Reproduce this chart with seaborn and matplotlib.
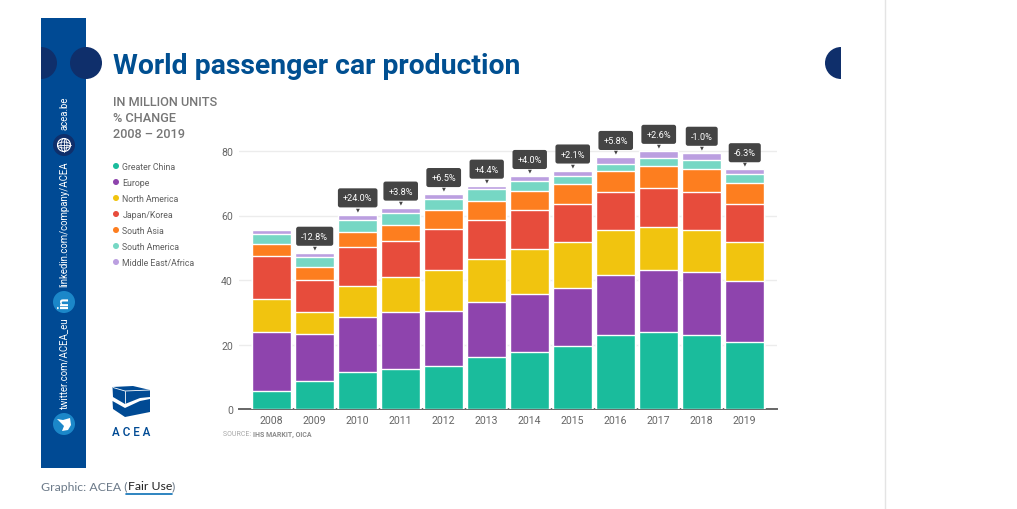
import numpy as np
import matplotlib
matplotlib.use('Agg')
import matplotlib.pyplot as plt
from matplotlib.patches import Circle, Wedge, Rectangle, Polygon, Ellipse
import seaborn as sns

years = ['2008', '2009', '2010', '2011', '2012', '2013', '2014', '2015', '2016', '2017', '2018', '2019']
regions = ['Greater China', 'Europe', 'North America', 'Japan/Korea', 'South Asia', 'South America', 'Middle East/Africa']
colors = ['#1abc9c', '#8e44ad', '#f1c40f', '#e74c3c', '#fd7e1f', '#76d7c4', '#bb9fe0']

greater_china = [5.7, 8.6, 11.5, 12.4, 13.3, 16.1, 17.8, 19.4, 22.9, 23.9, 22.9, 20.8]
europe = [18.2, 14.7, 16.9, 17.8, 17.1, 17.1, 17.9, 18.1, 18.6, 19.2, 19.6, 18.8]
north_america = [10.2, 6.7, 9.6, 10.7, 12.7, 13.2, 13.8, 14.2, 14.1, 13.2, 13.0, 12.1]
japan_korea = [13.3, 10.1, 12.1, 11.2, 12.7, 12.2, 12.2, 11.9, 11.7, 12.1, 11.7, 11.9]
south_asia = [3.8, 3.9, 4.9, 5.1, 5.9, 6.0, 6.0, 6.1, 6.5, 6.8, 7.2, 6.6]
south_america = [3.1, 3.0, 3.5, 3.5, 3.5, 3.5, 3.1, 2.5, 2.2, 2.6, 2.7, 2.6]
middle_east = [1.2, 1.4, 1.8, 1.7, 1.4, 1.1, 1.4, 1.7, 2.1, 2.2, 2.3, 1.5]
changes = [None, '-12.8%', '+24.0%', '+3.8%', '+6.5%', '+4.4%', '+4.0%', '+2.1%', '+5.8%', '+2.6%', '-1.0%', '-6.3%']

BLUE = '#004a94'
NAVY = '#0f2f6b'
LIGHT = '#1b87c9'

sns.set_style('white')
plt.rcParams['font.family'] = ['Roboto', 'DejaVu Sans']

W, H = 1017, 510
fig = plt.figure(figsize=(W / 100, H / 100), dpi=100, facecolor='white')

# page furniture, drawn in pixel coordinates
bg = fig.add_axes([0, 0, 1, 1])
bg.set_xlim(0, W)
bg.set_ylim(H, 0)
bg.axis('off')

bg.plot([885, 885], [0, H], color='#e4e4e4', lw=1)
bg.add_patch(Rectangle((41, 18.5), 45, 450, fc=BLUE, ec='none'))
bg.add_patch(Wedge((41, 64), 16, -90, 90, fc=NAVY, ec='none'))
bg.add_patch(Circle((86, 64), 16, fc=NAVY, ec='none'))
bg.add_patch(Wedge((841, 64), 16, 90, 270, fc=NAVY, ec='none'))

bg.text(113, 66, 'World passenger car production', fontsize=20.4, fontweight='bold',
        color='#004f91', va='center', ha='left')
for y, line in zip([102.5, 118.5, 134.5], ['IN MILLION UNITS', '% CHANGE', '2008 – 2019']):
    bg.text(113, y, line, fontsize=9.2, fontweight='medium', color='#767676', va='center', ha='left')

# legend
for i, (name, col) in enumerate(zip(regions, colors)):
    y = 167 + i * 16
    bg.add_patch(Circle((116, y), 3, fc=col, ec='none'))
    bg.text(122.5, y + 0.7, name, fontsize=6.35, color='#5f5f5f', va='center', ha='left')

# sidebar
for y, label in zip([130, 287, 409], ['acea.be', 'linkedin.com/company/ACEA', 'twitter.com/ACEA_eu']):
    bg.text(64.5, y, label, fontsize=6.9, color='white', rotation=90, ha='center', va='bottom')

bg.add_patch(Circle((64, 146), 11, fc=NAVY, ec='none'))
bg.add_patch(Circle((64, 146), 6.5, fc='none', ec='white', lw=0.8))
bg.add_patch(Ellipse((64, 146), 6, 13, fc='none', ec='white', lw=0.6))
bg.add_patch(Ellipse((64, 146), 13, 6, fc='none', ec='white', lw=0.6))
bg.plot([57.5, 70.5], [146, 146], color='white', lw=0.6)
bg.plot([64, 64], [139.5, 152.5], color='white', lw=0.6)

bg.add_patch(Circle((64, 303), 11, fc=LIGHT, ec='none'))
bg.text(64.5, 303, 'in', fontsize=11, fontweight='bold', color='white', rotation=90, ha='center', va='center')

bg.add_patch(Circle((64, 425), 11, fc=LIGHT, ec='none'))
bg.add_patch(Polygon([(57, 420), (63, 421), (70, 419), (71, 426), (68, 431), (62, 432), (64, 427)],
                     fc='white', ec='none'))

# ACEA logo
bg.add_patch(Polygon([(112.5, 388), (133, 387), (150, 391), (150, 398), (140, 399), (125, 405), (113, 398)],
                     fc=BLUE, ec='none'))
bg.add_patch(Polygon([(112.5, 402), (125, 409), (140, 402), (150, 400), (150, 413), (125, 418), (113, 410)],
                     fc=BLUE, ec='none'))
bg.plot([113, 125, 150], [388.5, 392, 391], color='white', lw=0.6)
bg.plot([125, 125], [392, 404], color='white', lw=0.6)
bg.text(131.5, 432.5, 'A C E A', fontsize=8.4, color=BLUE, ha='center', va='center', fontweight='medium')

# source and credit
src = bg.text(223, 435, 'SOURCE: ', fontsize=5, color='#a8a8a8', va='center', ha='left')
bg.annotate('IHS MARKIT, OICA', xy=(1, 0.5), xycoords=src, fontsize=5, fontweight='bold',
            color='#8a8a8a', va='center', ha='left')
credit = bg.text(41, 487, 'Graphic: ACEA (', fontsize=8.8, color='#6c7a89', va='center', ha='left',
                 family='Lato')
fair = bg.annotate('Fair Use', xy=(1, 0.5), xycoords=credit, fontsize=8.8, color='#222222',
                   va='center', ha='left', family='Lato')
bg.annotate(')', xy=(1, 0.5), xycoords=fair, fontsize=8.8, color='#6c7a89', va='center', ha='left',
            family='Lato')
bg.plot([126, 172], [494.5, 494.5], color='#0a6fb5', lw=1.2)

# chart: layered bars, tallest cumulative first
series = np.array([greater_china, europe, north_america, japan_korea, south_asia, south_america, middle_east])
stacked = series.cumsum(axis=0)

ax = fig.add_axes([239 / W, 1 - 410 / H, (777 - 239) / W, 290 / H])
ax.patch.set_alpha(0)
for i in range(len(regions) - 1, -1, -1):
    sns.barplot(x=years, y=stacked[i], color=colors[i], width=0.9, saturation=1, ax=ax, zorder=3)

ax.set_xlim(-0.76, 11.75)
ax.set_ylim(0, 290 / 3.225)
ax.set_yticks([0, 20, 40, 60, 80])
ax.yaxis.grid(True, color='#ececec', lw=1)
ax.set_axisbelow(True)
sns.despine(ax=ax, left=True)
ax.spines['bottom'].set_color('#666666')
ax.spines['bottom'].set_linewidth(1.4)
ax.tick_params(axis='both', length=0, labelsize=7.6, labelcolor='#666666')
ax.tick_params(axis='x', pad=4)
ax.tick_params(axis='y', pad=4.5)

# % change callouts above each bar
totals = stacked[-1]
for i, label in enumerate(changes):
    if label is None:
        continue
    ax.annotate(label, xy=(i, totals[i]), xytext=(0, 12), textcoords='offset points',
                ha='center', va='center', fontsize=6.6, color='white', zorder=5,
                bbox=dict(boxstyle='round,pad=0.55,rounding_size=0.25', fc='#444444', ec='none'))
    ax.annotate('▼', xy=(i, totals[i]), xytext=(0, 4.4), textcoords='offset points',
                ha='center', va='center', fontsize=3.6, color='#444444', zorder=5,
                family='DejaVu Sans')

fig.savefig('out.png', dpi=100)
